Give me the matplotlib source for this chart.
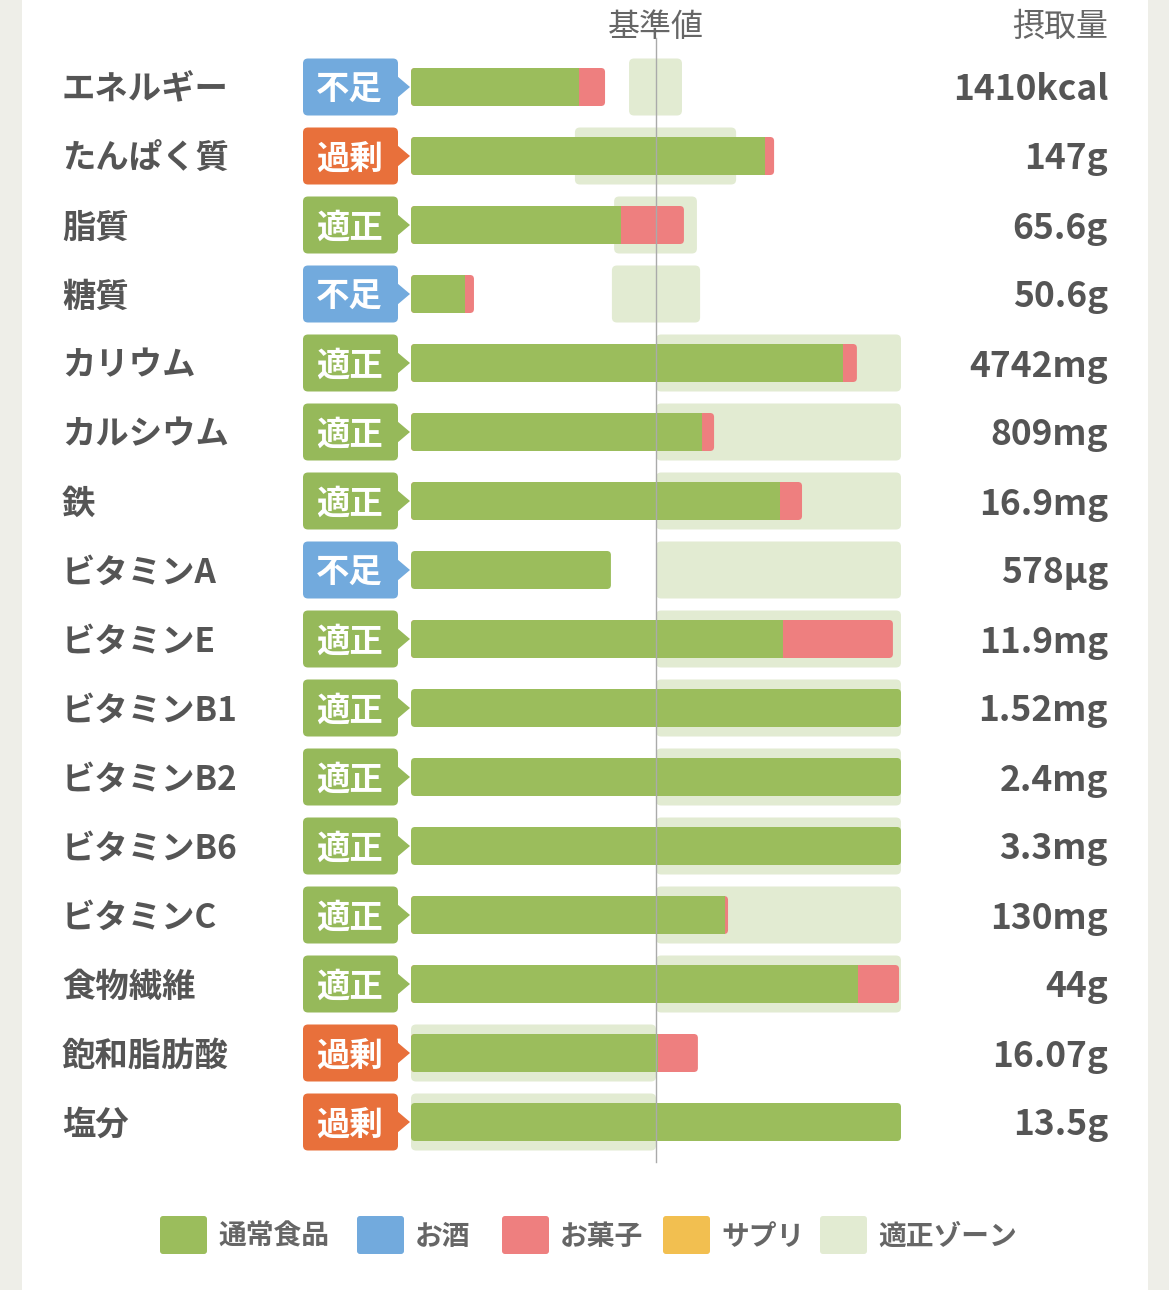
import matplotlib
matplotlib.use("Agg")
import matplotlib.pyplot as plt
from matplotlib.patches import FancyBboxPatch, Rectangle, Polygon

plt.rcParams['font.family'] = ['Noto Sans CJK JP', 'DejaVu Sans']

# data (percent of the reference value; 100 = 基準値, 200 = right edge)
nutrients = ['エネルギー', 'たんぱく質', '脂質', '糖質', 'カリウム', 'カルシウム', '鉄',
             'ビタミンA', 'ビタミンE', 'ビタミンB1', 'ビタミンB2', 'ビタミンB6',
             'ビタミンC', '食物繊維', '飽和脂肪酸', '塩分']
status = ['不足', '過剰', '適正', '不足', '適正', '適正', '適正', '不足',
          '適正', '適正', '適正', '適正', '適正', '適正', '過剰', '過剰']
food_pct = [68.6, 144.5, 85.7, 22.0, 176.3, 118.8, 150.6, 81.6,
            151.8, 200, 200, 200, 128.2, 182.4, 100.8, 200]
snack_pct = [10.6, 3.7, 25.7, 3.7, 5.7, 4.9, 9.0, 0,
             44.9, 0, 0, 0, 1.2, 16.8, 16.3, 0]
zone_lo = [89.0, 66.9, 82.9, 82.0, 100, 100, 100, 100,
           100, 100, 100, 100, 100, 100, 0, 0]
zone_hi = [110.6, 132.7, 116.7, 118.0, 200, 200, 200, 200,
           200, 200, 200, 200, 200, 200, 100, 100]
intake = ['1410kcal', '147g', '65.6g', '50.6g', '4742mg', '809mg', '16.9mg', '578µg',
          '11.9mg', '1.52mg', '2.4mg', '3.3mg', '130mg', '44g', '16.07g', '13.5g']
legend_labels = ['通常食品', 'お酒', 'お菓子', 'サプリ', '適正ゾーン']

GREEN = '#9bbd5c'
BLUE = '#72aadd'
PINK = '#ee7f7f'
YELLOW = '#f2bf50'
ZONE = '#e2ebd2'
ORANGE = '#e8703b'
TEXT = '#555555'
badge_color = {'不足': BLUE, '過剰': ORANGE, '適正': '#96b95a'}
legend_colors = [GREEN, BLUE, PINK, YELLOW, ZONE]

W, H = 1169, 1290
PX = 2.45    # pixels per percent
ROW = 69.0   # pixels per row
X0 = 411.0   # pixel x of 0%
Y0 = 87.0    # pixel y of first row

fig = plt.figure(figsize=(W / 100, H / 100), dpi=100)
fig.patch.set_facecolor('#eeeee8')
ax = fig.add_axes([0, 0, 1, 1])
ax.set_xlim(-X0 / PX, (W - X0) / PX)
ax.set_ylim((H - Y0) / ROW, -Y0 / ROW)
ax.axis('off')


def px(v):
    return v / PX


def py(v):
    return v / ROW


asp = PX / ROW

# white panel
ax.add_patch(Rectangle((px(22 - X0), py(-Y0 - 10)), px(1126), py(H + 20),
                       facecolor='white', edgecolor='none', zorder=0))


def rbox(x, y, w, h, color, r=4, z=2):
    p = FancyBboxPatch((x, y), w, h, boxstyle='round,pad=0,rounding_size=%f' % px(r),
                       mutation_aspect=asp, facecolor=color, edgecolor='none', zorder=z)
    ax.add_patch(p)


bar_h = py(38)
zone_h = py(57)
tdy = py(3)
for i in range(len(nutrients)):
    # zone
    rbox(zone_lo[i], i - zone_h / 2, zone_hi[i] - zone_lo[i], zone_h, ZONE, r=5, z=1)
    g = food_pct[i]
    s = snack_pct[i]
    if s > 0:
        rbox(0, i - bar_h / 2, g + s, bar_h, PINK, z=2)
        rbox(0, i - bar_h / 2, g, bar_h, GREEN, z=3)
        ax.add_patch(Rectangle((g - px(8), i - bar_h / 2), px(8), bar_h,
                               facecolor=GREEN, edgecolor='none', zorder=3))
    else:
        rbox(0, i - bar_h / 2, g, bar_h, GREEN, z=3)
    # label
    ax.text(px(62 - X0), i + tdy, nutrients[i], ha='left', va='center', fontsize=24,
            fontweight='bold', color=TEXT)
    # badge
    bc = badge_color[status[i]]
    rbox(px(303 - X0), i - py(28.5), px(95), py(57), bc, r=5, z=2)
    ax.add_patch(Polygon([(px(397 - X0), i - py(11)), (px(410 - X0), i),
                          (px(397 - X0), i + py(11))], closed=True,
                         facecolor=bc, edgecolor='none', zorder=2))
    ax.text(px(349 - X0), i + py(3), status[i], ha='center', va='center', fontsize=24,
            fontweight='bold', color='white', zorder=4)
    # intake value
    ax.text(px(1108 - X0), i + tdy, intake[i], ha='right', va='center', fontsize=25.5,
            fontweight='bold', color=TEXT)

# reference line
ax.plot([100, 100], [py(38 - Y0), py(1162 - Y0)], color='#aaaaaa', lw=1, zorder=5)

ax.text(100, py(27 - Y0), '基準値', ha='center', va='center', fontsize=23, color='#666666')
ax.text(px(1108 - X0), py(27 - Y0), '摂取量', ha='right', va='center', fontsize=23,
        color='#666666')

# legend
leg_y = py(1235 - Y0)
leg_x = [160, 357, 502, 663, 820]
for lx, lab, col in zip(leg_x, legend_labels, legend_colors):
    rbox(px(lx - X0), leg_y - py(19), px(47), py(38), col, r=3, z=2)
    ax.text(px(lx + 58 - X0), leg_y + py(2), lab, ha='left', va='center', fontsize=20,
            fontweight='bold', color='#666666')

fig.savefig('out.png', dpi=100, facecolor=fig.get_facecolor())
